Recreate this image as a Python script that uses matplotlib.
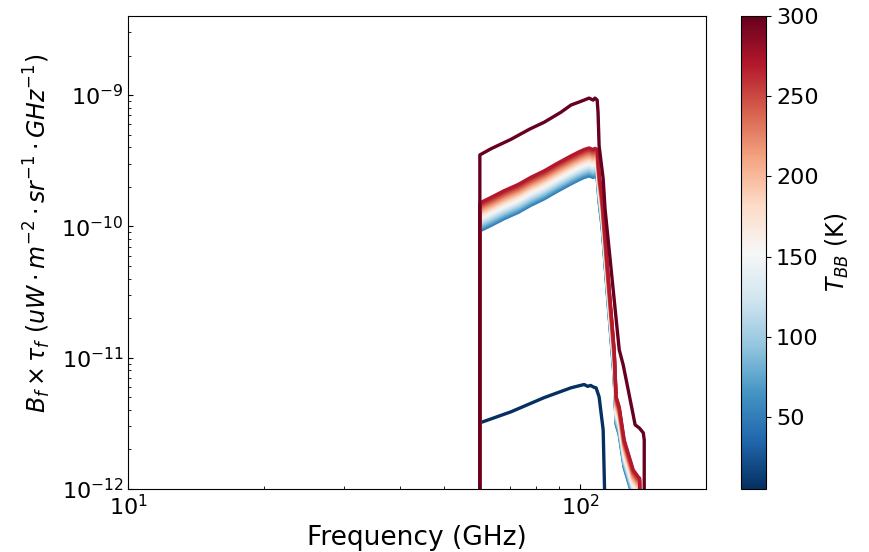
import matplotlib
matplotlib.use('Agg')
import matplotlib.pyplot as plt
from matplotlib import cm, colors

# Кривая для 5 K (нижняя, тёмно-синяя)
freq_5k = [59.9, 60.0, 70.3, 83.2, 95.5, 102.1, 104.0, 105.5, 107.4, 108.5,
           110.2, 112.5, 113.3, 113.6]
flux_5k = [0, 3.19e-12, 3.87e-12, 4.96e-12, 5.9e-12, 6.25e-12, 6.05e-12,
           6.15e-12, 5.95e-12, 5.9e-12, 5.03e-12, 2.82e-12, 1.0e-12, 0]

# Кривая для 300 K (верхняя, тёмно-красная)
freq_300k = [59.9, 60.0, 63.5, 70.3, 77.3, 83.2, 90.7, 95.5, 99.5, 102.1,
             104.7, 106.9, 107.9, 109.1, 109.6, 110.2, 112.5, 113.6, 122.1,
             124.6, 127.8, 131.1, 132.4, 135.2, 138.0, 138.7, 138.8]
flux_300k = [0, 3.5e-10, 3.9e-10, 4.6e-10, 5.5e-10, 6.2e-10, 7.4e-10,
             8.4e-10, 8.85e-10, 9.16e-10, 9.48e-10, 9.16e-10, 9.48e-10,
             9.16e-10, 7.4e-10, 4.1e-10, 2.3e-10, 1.35e-10, 1.15e-11,
             8.8e-12, 5.7e-12, 3.67e-12, 3.08e-12, 2.92e-12, 2.68e-12,
             2.37e-12, 0]

# Пучок кривых: общая форма полосы (относительно значения на 60 ГГц)
freq_band = [59.9, 60.0, 63.5, 67.8, 72.9, 77.8, 83.2, 89.0, 95.5, 99.5,
             102.1, 104.7, 106.9, 107.9, 109.1, 110.2, 111.9, 115.3, 119.0,
             120.2, 122.1, 125.2, 131.1, 134.5, 135.5, 135.6]
band_shape = [0, 1.0, 1.10, 1.235, 1.38, 1.565, 1.75, 2.0, 2.28, 2.45,
              2.55, 2.62, 2.55, 2.6, 2.56, 1.65, 1.07, 0.285, 0.076,
              0.0334, 0.0279, 0.0157, 0.00927, 0.0082, 0.0080, 0]

# Температуры пучка и уровни на 60 ГГц
temps_band = [50, 60, 70, 80, 90, 100, 110, 120, 130, 140, 150, 160,
              170, 180, 190, 200, 210, 220, 230, 240, 250, 260, 270]
levels_band = [9.25e-11, 9.46e-11, 9.67e-11, 9.89e-11, 1.011e-10, 1.034e-10,
               1.057e-10, 1.081e-10, 1.105e-10, 1.130e-10, 1.155e-10,
               1.181e-10, 1.208e-10, 1.235e-10, 1.263e-10, 1.291e-10,
               1.320e-10, 1.350e-10, 1.380e-10, 1.411e-10, 1.443e-10,
               1.475e-10, 1.510e-10]

cbar_ticks = [50, 100, 150, 200, 250, 300]
t_min, t_max = 5, 300


def draw_chart():
    """Отрисовка спектров B_f x tau_f"""
    fig = plt.figure(figsize=(8.69, 5.52), dpi=100)
    ax = fig.add_axes([0.1477, 0.1141, 0.6647, 0.8569])
    cax = fig.add_axes([0.8527, 0.1141, 0.0290, 0.8569])

    cmap = matplotlib.colormaps['RdBu_r']
    norm = colors.Normalize(vmin=t_min, vmax=t_max)
    lw = 2.4

    ax.plot(freq_5k, flux_5k, color=cmap(norm(5)), lw=lw)
    for t, lev in zip(temps_band, levels_band):
        ax.plot(freq_band, [lev * s for s in band_shape], color=cmap(norm(t)), lw=lw)
    ax.plot(freq_300k, flux_300k, color=cmap(norm(300)), lw=lw)

    ax.set_xscale('log')
    ax.set_yscale('log')
    ax.set_xlim(10, 190)
    ax.set_ylim(1e-12, 4e-9)
    ax.tick_params(which='both', direction='in', labelsize=16)
    ax.set_xlabel('Frequency (GHz)', fontsize=19)
    ax.set_ylabel(r'$B_f \times \tau_f\ (uW \cdot m^{-2} \cdot sr^{-1} \cdot GHz^{-1})$',
                  fontsize=17)
    ax.yaxis.set_label_coords(-0.13, 0.541)

    sm = cm.ScalarMappable(norm=norm, cmap=cmap)
    cbar = fig.colorbar(sm, cax=cax, ticks=cbar_ticks)
    cbar.ax.tick_params(labelsize=16)
    cbar.set_label(r'$T_{BB}$ (K)', fontsize=17, labelpad=4)

    fig.savefig('out.png', dpi=100)


if __name__ == "__main__":
    draw_chart()
